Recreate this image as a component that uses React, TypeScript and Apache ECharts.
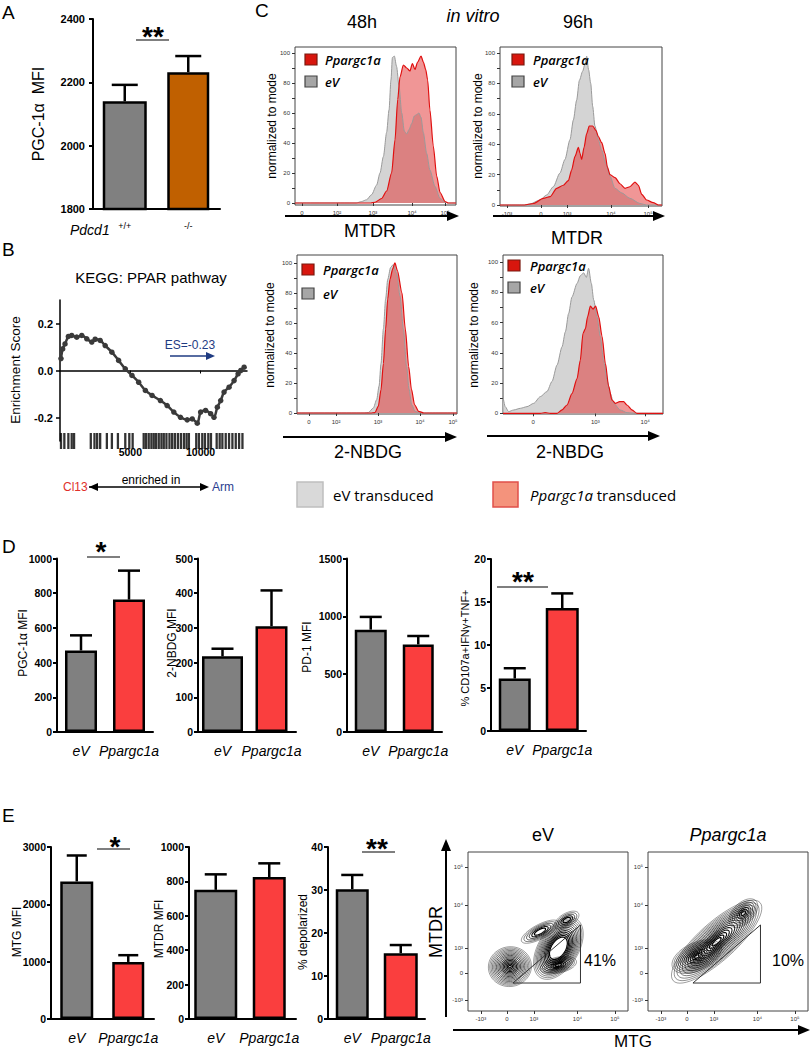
import React, { useEffect, useRef } from 'react';
import * as echarts from 'echarts';

const FONT = 'Liberation Sans, Arial, sans-serif';
const CAL = 'Open Sans, sans-serif';
const GRAY = '#808080';
const RED = '#fa3e3e';
const ORANGE = '#c06000';

// ---------- Panel A ----------
const pdcdGenotypes = ['+/+', '-/-'];
const pgcMfiA = [2140, 2232];
const pgcMfiAErr = [52, 51];

// ---------- Panel B (GSEA running enrichment score) ----------
const esRank = [71, 190, 357, 595, 833, 1190, 1548, 1905, 2262, 2500, 2857, 3214, 3690, 4167, 4643, 5119, 5595, 6071, 6548, 7143, 7619, 8095, 8571, 9048, 9405, 9762, 10000, 10357, 10714, 10952, 11190, 11429, 11667, 12024, 12381, 12667, 12857, 13095];
const esScore = [0.051, 0.092, 0.113, 0.145, 0.149, 0.142, 0.149, 0.135, 0.121, 0.133, 0.128, 0.106, 0.078, 0.043, 0.007, -0.021, -0.05, -0.085, -0.106, -0.128, -0.149, -0.177, -0.199, -0.21, -0.206, -0.224, -0.177, -0.17, -0.184, -0.199, -0.156, -0.128, -0.092, -0.071, -0.043, -0.014, 0, 0.014];
const geneHits = [71, 309, 595, 833, 1000, 2190, 2452, 2643, 2857, 3333, 3690, 4119, 4643, 4929, 5167, 5952, 6119, 6310, 6500, 6667, 6833, 7024, 7214, 7381, 7571, 7786, 7976, 8167, 8381, 8595, 8810, 9000, 9167, 9690, 9881, 10119, 10310, 10548, 10738, 11143, 11357, 11548, 11786, 12024, 12262, 12500, 12738, 12976];
const esTicks = [5000, 10000];
const esYTicks = [-0.2, 0, 0.2];

// ---------- Panel C (histograms, display channel 0-1000, % of mode) ----------
const histYTicks = [0, 20, 40, 60, 80, 100];
const histYMinor = [0, 10, 20, 30, 40, 50, 60, 70, 80, 90, 100];

const mtdr48Ticks = [43, 261, 484, 727, 932];
const mtdr48Labels = ['0', '10²', '10³', '10⁴', '10⁵'];
const mtdr48EV = [[0, 0], [380, 0], [414, 1], [445, 2.2], [476, 5.6], [507, 12], [528, 20], [549, 31], [569, 47], [584, 62], [596, 82], [605, 97], [617, 98], [631, 91], [646, 78], [663, 60], [679, 48], [694, 46], [708, 49], [725, 53], [741, 58], [756, 59], [770, 60], [783, 57], [797, 47], [818, 33], [838, 22], [870, 11], [901, 3], [932, 0.5], [952, 0], [1000, 0]];
const mtdr48PGC = [[0, 0], [470, 0], [497, 0.5], [538, 3], [569, 8], [600, 20], [621, 42], [638, 69], [652, 84], [673, 92], [694, 90], [714, 88], [729, 93], [745, 89], [762, 94], [783, 98], [797, 94], [812, 89], [824, 82], [838, 62], [859, 38], [880, 18], [901, 7], [932, 1], [952, 0], [1000, 0]];

const mtdr96Ticks = [43, 253, 414, 685, 914];
const mtdr96Labels = ['-10³', '0', '10³', '10⁴', '10⁵'];
const mtdr96EV = [[0, 0], [150, 0], [185, 0.7], [247, 3.3], [288, 6.6], [329, 12], [370, 21], [401, 30], [432, 43], [453, 56], [473, 69], [490, 82], [510, 88], [525, 93], [535, 98], [547, 89], [560, 80], [572, 65], [586, 52], [607, 43], [628, 36], [654, 27], [679, 19], [710, 11], [751, 8], [802, 4.4], [864, 1], [905, 0], [1000, 0]];
const mtdr96PGC = [[0, 0], [150, 0], [206, 1], [267, 4.4], [309, 5.5], [350, 11], [391, 13], [422, 16], [442, 23], [463, 32], [484, 38], [494, 34], [504, 30], [519, 38], [535, 47], [551, 52], [572, 52], [593, 49], [607, 45], [628, 41], [648, 34], [663, 25], [679, 20], [710, 18], [741, 14], [772, 11], [802, 12], [833, 15], [854, 13], [875, 7], [905, 3.3], [946, 1.5], [977, 0], [1000, 0]];

const nbdg48Ticks = [75, 244, 506, 769, 975];
const nbdg48Labels = ['0', '10²', '10³', '10⁴', '10⁵'];
const nbdg48EV = [[0, 0], [420, 0], [446, 0.3], [477, 3.3], [498, 8.9], [513, 18], [525, 33], [540, 56], [554, 76], [567, 89], [585, 97], [602, 99], [623, 93], [644, 78], [665, 56], [685, 31], [700, 16], [717, 5.5], [738, 1.1], [769, 0], [1000, 0]];
const nbdg48PGC = [[0, 0], [460, 0], [487, 0.3], [508, 4.4], [525, 15.5], [540, 33], [554, 56], [567, 76], [581, 89], [598, 96], [612, 100], [627, 95], [656, 80], [677, 56], [698, 31], [715, 16], [735, 5.5], [760, 1.1], [792, 0], [1000, 0]];

const nbdg96Ticks = [188, 577, 889];
const nbdg96Labels = ['0', '10³', '10⁴'];
const nbdg96EV = [[0, 11], [4, 11], [14, 4.4], [35, 1.1], [67, 2.2], [109, 3.3], [150, 4.4], [192, 6.6], [233, 11], [275, 14.4], [306, 21], [338, 32], [369, 44], [390, 54], [410, 66], [431, 77], [463, 86], [483, 91], [504, 93], [521, 90], [535, 96], [552, 86], [567, 75], [587, 64], [608, 51], [629, 35], [650, 22], [671, 13], [692, 6.6], [733, 2.2], [775, 0.4], [837, 0], [1000, 0]];
const nbdg96PGC = [[0, 0], [233, 0], [264, 0.4], [296, 0], [338, 0], [369, 2.2], [400, 5.5], [431, 13], [463, 23], [483, 35], [500, 53], [515, 56], [529, 64], [546, 71], [563, 69], [579, 71], [598, 64], [619, 51], [640, 33], [660, 18], [681, 8.8], [702, 6.6], [729, 7.7], [754, 7.7], [775, 5.5], [806, 2.2], [837, 0], [1000, 0]];

// ---------- Panel D ----------
const vectorGroups = ['eV', 'Ppargc1a'];
const pgcMfiD = [470, 763];
const pgcMfiDErr = [87, 167];
const nbdgMfiD = [218, 305];
const nbdgMfiDErr = [22, 103];
const pd1MfiD = [885, 757];
const pd1MfiDErr = [110, 73];
const polyD = [6.1, 14.3];
const polyDErr = [1.2, 1.7];

// ---------- Panel E ----------
const mtgMfiE = [2400, 995];
const mtgMfiEErr = [452, 118];
const mtdrMfiE = [751, 825];
const mtdrMfiEErr = [90, 80];
const depolE = [30.2, 15.3];
const depolEErr = [3.3, 1.9];

const flowXTicks = [80, 244, 412, 684, 918];
const flowYTicks = [69, 239, 396, 667, 906];
const flowLabels = ['-10³', '0', '10³', '10⁴', '10⁵'];
// contour populations: [x, y, rx, ry, angleDeg, levels, innerScale]
const contourEV = [
  [262, 279, 135, 125, 10, 16, 0.06],
  [565, 394, 215, 125, 58, 13, 0.36],
  [565, 289, 115, 50, 12, 8, 0.18],
  [450, 499, 130, 45, 28, 6, 0.3],
  [617, 572, 85, 42, 30, 5, 0.3],
];
const contourPGC = [
  [429, 436, 365, 118, 42, 16, 0.1],
  [304, 342, 165, 88, 25, 12, 0.1],
  [596, 615, 110, 65, 45, 8, 0.15],
];
const depolGate = [[281, 176], [703, 176], [703, 541], [281, 176]];
const gatePercents = ['41%', '10%'];

function txt(text: string, x: number, y: number, size: number, o: any = {}) {
  return {
    type: 'text', x, y, rotation: o.rot || 0, z: 100,
    style: {
      text, fill: o.color || '#000', fontSize: size, fontFamily: o.family || FONT,
      fontWeight: o.weight || 'normal', fontStyle: o.italic ? 'italic' : 'normal',
      textAlign: o.align || 'center', textVerticalAlign: o.valign || 'middle', rich: o.rich,
    },
  };
}
function ln(x1: number, y1: number, x2: number, y2: number, w = 1, c = '#000') {
  return { type: 'line', z: 100, shape: { x1, y1, x2, y2 }, style: { stroke: c, lineWidth: w } };
}
function arrowRight(x1: number, x2: number, y: number, w = 2, c = '#000', hl = 12, hw = 5) {
  return [ln(x1, y, x2 - hl + 1, y, w, c), { type: 'polygon', z: 100, shape: { points: [[x2, y], [x2 - hl, y - hw], [x2 - hl, y + hw]] }, style: { fill: c } }];
}
function arrowLeft(x1: number, y: number, c = '#000', hl = 12, hw = 5) {
  return [{ type: 'polygon', z: 100, shape: { points: [[x1, y], [x1 + hl, y - hw], [x1 + hl, y + hw]] }, style: { fill: c } }];
}
function arrowUp(x: number, y1: number, y2: number, w = 2, c = '#000', hl = 12, hw = 5) {
  return [ln(x, y1, x, y2 + hl - 1, w, c), { type: 'polygon', z: 100, shape: { points: [[x, y2], [x - hw, y2 + hl], [x + hw, y2 + hl]] }, style: { fill: c } }];
}
function rect(x: number, y: number, w: number, h: number, fill: string, stroke: string, lw = 1.5) {
  return { type: 'rect', z: 100, shape: { x, y, width: w, height: h }, style: { fill, stroke, lineWidth: lw } };
}

function buildOption() {
  const grid: any[] = [], xAxis: any[] = [], yAxis: any[] = [], series: any[] = [], g: any[] = [];
  const addGrid = (o: any) => { grid.push({ containLabel: false, outerBoundsMode: 'none', show: false, ...o }); return grid.length - 1; };

  // ----- bar panels -----
  const barPanels = [
    { box: [93, 19, 127, 190], cats: pdcdGenotypes, vals: pgcMfiA, errs: pgcMfiAErr, min: 1800, max: 2400, step: 200, colors: [GRAY, ORANGE], bw: [44, 42], cap: 13, catFont: 9, catItalic: false, catMargin: 12, yFont: 11, yMargin: 8 },
    { box: [57, 558.5, 96, 173.5], cats: vectorGroups, vals: pgcMfiD, errs: pgcMfiDErr, min: 0, max: 1000, step: 200, colors: [GRAY, RED], bw: [32, 32], cap: 11 },
    { box: [198, 558.5, 98, 173.5], cats: vectorGroups, vals: nbdgMfiD, errs: nbdgMfiDErr, min: 0, max: 500, step: 100, colors: [GRAY, RED], bw: [41, 32], cap: 11 },
    { box: [347, 558.5, 95, 173.5], cats: vectorGroups, vals: pd1MfiD, errs: pd1MfiDErr, min: 0, max: 1500, step: 500, colors: [GRAY, RED], bw: [32, 31], cap: 11 },
    { box: [491, 559, 95, 172], cats: vectorGroups, vals: polyD, errs: polyDErr, min: 0, max: 20, step: 5, colors: [GRAY, RED], bw: [32, 33], cap: 11 },
    { box: [51, 847, 103, 172], cats: vectorGroups, vals: mtgMfiE, errs: mtgMfiEErr, min: 0, max: 3000, step: 1000, colors: [GRAY, RED], bw: [33, 32], cap: 10 },
    { box: [189, 847, 107, 172], cats: vectorGroups, vals: mtdrMfiE, errs: mtdrMfiEErr, min: 0, max: 1000, step: 200, colors: [GRAY, RED], bw: [43, 33], cap: 11 },
    { box: [328, 847, 97, 172], cats: vectorGroups, vals: depolE, errs: depolEErr, min: 0, max: 40, step: 10, colors: [GRAY, RED], bw: [33, 34], cap: 11 },
  ];
  barPanels.forEach((p: any) => {
    const gi = addGrid({ left: p.box[0], top: p.box[1], width: p.box[2], height: p.box[3] });
    const xa = xAxis.length;
    xAxis.push({
      type: 'category', gridIndex: gi, data: p.cats,
      axisLine: { lineStyle: { color: '#000', width: 2 } },
      axisTick: { alignWithLabel: true, length: 5, lineStyle: { width: 2, color: '#000' } },
      axisLabel: { interval: 0, fontSize: p.catFont || 14, fontStyle: p.catItalic === false ? 'normal' : 'italic', fontFamily: FONT, color: '#000', margin: p.catMargin || 12 },
    });
    xAxis.push({ type: 'category', gridIndex: gi, data: p.cats, show: false });
    const ya = yAxis.length;
    yAxis.push({
      type: 'value', gridIndex: gi, min: p.min, max: p.max, interval: p.step,
      splitLine: { show: false },
      axisLine: { show: true, lineStyle: { color: '#000', width: 2 } },
      axisTick: { show: true, length: 4, lineStyle: { width: 2, color: '#000' } },
      axisLabel: { fontSize: p.yFont || 10.5, fontWeight: 'bold', color: '#000', fontFamily: FONT, margin: p.yMargin || 5, formatter: (v: number) => String(v) },
    });
    series.push({ type: 'bar', xAxisIndex: xa, yAxisIndex: ya, data: [p.vals[0], '-'], barWidth: p.bw[0], itemStyle: { color: p.colors[0], borderColor: '#000', borderWidth: 2.5 } });
    series.push({ type: 'bar', xAxisIndex: xa + 1, yAxisIndex: ya, data: ['-', p.vals[1]], barWidth: p.bw[1], itemStyle: { color: p.colors[1], borderColor: '#000', borderWidth: 2.5 } });
    const cap = p.cap;
    series.push({
      type: 'custom', xAxisIndex: xa, yAxisIndex: ya, z: 5, encode: { x: 0, y: 1 },
      data: p.vals.map((v: number, i: number) => [i, v, p.errs[i]]),
      renderItem: (params: any, api: any) => {
        const i = api.value(0), v = api.value(1), e = api.value(2);
        const b = api.coord([i, v]);
        const t = api.coord([i, v + e]);
        return {
          type: 'group', children: [
            { type: 'line', shape: { x1: b[0], y1: b[1], x2: t[0], y2: t[1] }, style: { stroke: '#000', lineWidth: 2.5 } },
            { type: 'line', shape: { x1: t[0] - cap, y1: t[1], x2: t[0] + cap, y2: t[1] }, style: { stroke: '#000', lineWidth: 2.5 } },
          ],
        };
      },
    });
  });

  // ----- Panel B -----
  {
    const gi = addGrid({ left: 60, top: 300, width: 187, height: 141 });
    const xa = xAxis.length;
    xAxis.push({
      type: 'value', gridIndex: gi, min: 0, max: 13300, splitLine: { show: false },
      axisLine: { onZero: true, lineStyle: { color: '#000', width: 1.5 } },
      axisTick: { customValues: esTicks, length: 3, lineStyle: { color: '#000' } },
      axisLabel: { customValues: esTicks, fontSize: 10.5, fontWeight: 'bold', color: '#000', fontFamily: FONT, margin: 5, formatter: (v: number) => String(v) },
    });
    const ya = yAxis.length;
    yAxis.push({
      type: 'value', gridIndex: gi, min: -0.3, max: 0.3, splitLine: { show: false },
      axisLine: { show: true, lineStyle: { color: '#000', width: 1.5 } },
      axisTick: { show: true, customValues: esYTicks, length: 4, lineStyle: { color: '#000', width: 1.5 } },
      axisLabel: { customValues: esYTicks, fontSize: 11, fontWeight: 'bold', color: '#000', fontFamily: FONT, margin: 7, formatter: (v: number) => v.toFixed(1) },
    });
    series.push({
      type: 'line', xAxisIndex: xa, yAxisIndex: ya, data: esRank.map((r, i) => [r, esScore[i]]),
      symbol: 'circle', symbolSize: 5.5, showSymbol: true, smooth: 0.3,
      lineStyle: { color: '#3a3a3a', width: 2.5 }, itemStyle: { color: '#3a3a3a' },
    });
    const gb = addGrid({ left: 60, top: 433, width: 187, height: 16 });
    const xb = xAxis.length;
    xAxis.push({ type: 'value', gridIndex: gb, min: 0, max: 13300, show: false });
    const yb = yAxis.length;
    yAxis.push({ type: 'value', gridIndex: gb, min: 0, max: 1, show: false });
    series.push({ type: 'scatter', xAxisIndex: xb, yAxisIndex: yb, symbol: 'rect', symbolSize: [2.3, 16], itemStyle: { color: '#000' }, data: geneHits.map((h) => [h, 0.5]) });
  }

  // ----- Panel C histograms -----
  const hists = [
    { box: [295, 47, 161, 158], yMin: -1.33, yMax: 104, ticks: mtdr48Ticks, labels: mtdr48Labels, ev: mtdr48EV, pgc: mtdr48PGC, leg: [305, 54, 76, 325] },
    { box: [500, 47, 162, 159], yMin: -0.66, yMax: 104, ticks: mtdr96Ticks, labels: mtdr96Labels, ev: mtdr96EV, pgc: mtdr96PGC, leg: [512, 54, 76, 533] },
    { box: [297, 255, 160, 159], yMin: -0.67, yMax: 105.3, ticks: nbdg48Ticks, labels: nbdg48Labels, ev: nbdg48EV, pgc: nbdg48PGC, leg: [302, 264, 288, 323] },
    { box: [503, 255, 160, 159], yMin: -0.47, yMax: 104.8, ticks: nbdg96Ticks, labels: nbdg96Labels, ev: nbdg96EV, pgc: nbdg96PGC, leg: [508, 260, 282, 530] },
  ];
  hists.forEach((h: any) => {
    const gi = addGrid({ left: h.box[0], top: h.box[1], width: h.box[2], height: h.box[3], show: true, borderColor: '#444', borderWidth: 1 });
    const xa = xAxis.length;
    xAxis.push({
      type: 'value', gridIndex: gi, min: 0, max: 1000, splitLine: { show: false },
      axisLine: { show: false },
      axisTick: { show: true, customValues: h.ticks, length: 3, lineStyle: { color: '#333', width: 1 } },
      axisLabel: { customValues: h.ticks, formatter: (v: number) => h.labels[h.ticks.indexOf(v)] ?? '', fontSize: 6, color: '#333', fontFamily: FONT, margin: 5 },
    });
    const ya = yAxis.length;
    yAxis.push({
      type: 'value', gridIndex: gi, min: h.yMin, max: h.yMax, splitLine: { show: false },
      axisLine: { show: false },
      axisTick: { show: true, customValues: histYMinor, length: 3, lineStyle: { color: '#333', width: 1 } },
      axisLabel: { customValues: histYTicks, fontSize: 6, color: '#333', fontFamily: FONT, margin: 5 },
    });
    series.push({
      type: 'line', xAxisIndex: xa, yAxisIndex: ya, data: h.ev, showSymbol: false, symbol: 'none', smooth: 0.25, smoothMonotone: 'x',
      lineStyle: { color: '#9a9a9a', width: 1 }, areaStyle: { color: '#d4d4d4', opacity: 1 },
    });
    series.push({
      type: 'line', xAxisIndex: xa, yAxisIndex: ya, data: h.pgc, showSymbol: false, symbol: 'none', smooth: 0.25, smoothMonotone: 'x',
      lineStyle: { color: '#e01010', width: 1.2 }, areaStyle: { color: 'rgba(225,45,45,0.5)', opacity: 1 },
    });
    const [sx, ry, gy, tx] = h.leg;
    g.push(rect(sx, ry, 12, 11, '#d8160e', '#7a1a10', 1.2));
    g.push(rect(sx, gy, 12, 11, '#a6a6a6', '#444', 1.2));
    g.push(txt('Ppargc1a', tx, ry + 6, 13, { align: 'left', italic: true, weight: 600, family: CAL }));
    g.push(txt('eV', tx, gy + 6, 13, { align: 'left', italic: true, weight: 600, family: CAL }));
  });

  // ----- Panel E contour plots -----
  const contours = [
    { box: [468, 852, 160, 159], pops: contourEV, pct: gatePercents[0], pctX: 600 },
    { box: [648, 852, 160, 159], pops: contourPGC, pct: gatePercents[1], pctX: 788 },
  ];
  contours.forEach((c: any) => {
    const gi = addGrid({ left: c.box[0], top: c.box[1], width: c.box[2], height: c.box[3], show: true, borderColor: '#444', borderWidth: 1 });
    const xa = xAxis.length;
    xAxis.push({
      type: 'value', gridIndex: gi, min: 0, max: 1000, splitLine: { show: false }, axisLine: { show: false },
      axisTick: { show: true, customValues: flowXTicks, length: 3, lineStyle: { color: '#333' } },
      axisLabel: { customValues: flowXTicks, formatter: (v: number) => flowLabels[flowXTicks.indexOf(v)] ?? '', fontSize: 6, color: '#333', fontFamily: FONT, margin: 5 },
    });
    const ya = yAxis.length;
    yAxis.push({
      type: 'value', gridIndex: gi, min: 0, max: 1000, splitLine: { show: false }, axisLine: { show: false },
      axisTick: { show: true, customValues: flowYTicks, length: 3, lineStyle: { color: '#333' } },
      axisLabel: { customValues: flowYTicks, formatter: (v: number) => flowLabels[flowYTicks.indexOf(v)] ?? '', fontSize: 6, color: '#333', fontFamily: FONT, margin: 5 },
    });
    series.push({
      type: 'custom', xAxisIndex: xa, yAxisIndex: ya, clip: true, data: c.pops,
      renderItem: (params: any, api: any) => {
        const ctr = api.coord([api.value(0), api.value(1)]);
        const s = api.size([api.value(2), api.value(3)]);
        const ang = (api.value(4) * Math.PI) / 180;
        const lv = api.value(5), inner = api.value(6);
        const children: any[] = [];
        for (let k = 0; k < lv; k++) {
          const q = k / Math.max(1, lv - 1);
          const f = 1 - q * (1 - inner);
          const pts: number[][] = [];
          for (let j = 0; j < 56; j++) {
            const t = (j / 56) * Math.PI * 2;
            const ex = Math.cos(t) * s[0] * f, ey = Math.sin(t) * s[1] * f;
            pts.push([ctr[0] + ex * Math.cos(ang) - ey * Math.sin(ang), ctr[1] - (ex * Math.sin(ang) + ey * Math.cos(ang))]);
          }
          children.push({ type: 'polygon', shape: { points: pts }, style: { fill: 'none', stroke: '#000', lineWidth: 0.7 + 0.5 * q, opacity: 0.55 + 0.45 * q } });
        }
        return { type: 'group', children };
      },
    });
    series.push({ type: 'line', xAxisIndex: xa, yAxisIndex: ya, data: depolGate, symbol: 'none', lineStyle: { color: '#333', width: 1 }, z: 6 });
    g.push(txt(c.pct, c.pctX, 960, 16));
  });

  // ----- text & annotations -----
  g.push(txt('A', 2, 12.5, 19, { align: 'left' }));
  g.push(txt('B', 2, 249, 19, { align: 'left' }));
  g.push(txt('C', 255, 10, 19, { align: 'left' }));
  g.push(txt('D', 2, 546.5, 19, { align: 'left' }));
  g.push(txt('E', 2, 815, 19, { align: 'left' }));

  // A
  g.push(txt('PGC-1α  MFI', 38, 114, 16, { rot: Math.PI / 2 }));
  g.push(txt('Pdcd1', 70, 230, 14, { align: 'left', italic: true }));
  g.push(txt('**', 153, 36, 28, { weight: 'bold' }));
  g.push(ln(136, 40, 169, 40, 1.2));

  // B
  g.push(txt('KEGG: PPAR pathway', 151, 277, 15));
  g.push(txt('Enrichment Score', 15, 370, 13.5, { rot: Math.PI / 2 }));
  g.push(txt('ES=-0.23', 190, 345, 12, { color: '#1f3b82' }));
  g.push(...arrowRight(170, 215, 356, 1.5, '#1f3b82', 9, 4));
  g.push(txt('enriched in', 151, 480, 12));
  g.push(txt('Cl13', 63, 487, 12, { align: 'left', color: '#e0302a' }));
  g.push(txt('Arm', 212, 487, 12, { align: 'left', color: '#2a3d8f' }));
  g.push(...arrowRight(89, 209, 487, 1.5, '#000', 9, 4));
  g.push(...arrowLeft(89, 487, '#000', 9, 4));

  // C
  g.push(txt('48h', 362, 22, 18));
  g.push(txt('in vitro', 473, 16, 18, { italic: true }));
  g.push(txt('96h', 578, 22, 18));
  g.push(txt('normalized to mode', 272, 126, 12, { rot: Math.PI / 2 }));
  g.push(txt('normalized to mode', 478, 126, 12, { rot: Math.PI / 2 }));
  g.push(txt('normalized to mode', 270, 335, 12, { rot: Math.PI / 2 }));
  g.push(txt('normalized to mode', 474, 335, 12, { rot: Math.PI / 2 }));
  g.push(...arrowRight(285, 459, 216, 2));
  g.push(...arrowRight(493, 665, 216, 2));
  g.push(...arrowRight(283, 457, 437, 2));
  g.push(...arrowRight(487, 660, 436, 2));
  g.push(txt('MTDR', 370, 231, 18));
  g.push(txt('MTDR', 577, 238, 18));
  g.push(txt('2-NBDG', 368, 452, 18));
  g.push(txt('2-NBDG', 570, 452, 18));
  g.push(rect(297, 482, 26, 25, '#d9d9d9', '#bfbfbf', 1.5));
  g.push(txt('eV transduced', 333, 495, 15, { align: 'left', family: CAL }));
  g.push(rect(493, 482, 25, 25, '#f4937c', '#e0504a', 1.5));
  g.push(txt('{i|Ppargc1a} transduced', 530, 495, 15, { align: 'left', family: CAL, rich: { i: { fontStyle: 'italic', fontSize: 15, fontFamily: CAL, fill: '#000' } } }));

  // D
  g.push(txt('PGC-1α MFI', 23, 643, 12, { rot: Math.PI / 2 }));
  g.push(txt('2-NBDG MFI', 172, 643, 12, { rot: Math.PI / 2 }));
  g.push(txt('PD-1 MFI', 307, 647, 12, { rot: Math.PI / 2 }));
  g.push(txt('% CD107a+IFNγ+TNF+', 465, 648, 11, { rot: Math.PI / 2 }));
  g.push(txt('*', 101, 551, 28, { weight: 'bold' }));
  g.push(ln(87, 557, 120, 557, 1.2));
  g.push(txt('**', 523, 581, 28, { weight: 'bold' }));
  g.push(ln(497, 587, 548, 587, 1.2));

  // E
  g.push(txt('MTG MFI', 17, 932, 12, { rot: Math.PI / 2 }));
  g.push(txt('MTDR MFI', 159, 929, 12, { rot: Math.PI / 2 }));
  g.push(txt('% depolarized', 303, 932, 12, { rot: Math.PI / 2 }));
  g.push(txt('*', 115, 846, 28, { weight: 'bold' }));
  g.push(ln(97, 849, 130, 849, 1.2));
  g.push(txt('**', 377, 848, 28, { weight: 'bold' }));
  g.push(ln(362, 852, 395, 852, 1.2));
  g.push(txt('eV', 543, 835, 18));
  g.push(txt('Ppargc1a', 728, 835, 18, { italic: true }));
  g.push(txt('MTDR', 436, 932, 18, { rot: Math.PI / 2 }));
  g.push(...arrowUp(446, 1017, 839, 2));
  g.push(...arrowRight(453, 810, 1030, 2));
  g.push(txt('MTG', 633, 1041, 17));

  return { animation: false, backgroundColor: '#fff', grid, xAxis, yAxis, series, graphic: { elements: g } };
}

export default function App() {
  const ref = useRef<HTMLDivElement>(null);
  useEffect(() => {
    const chart = echarts.init(ref.current as HTMLDivElement, null, { renderer: 'svg' });
    chart.setOption(buildOption() as any);
    return () => chart.dispose();
  }, []);
  return <div ref={ref} style={{ position: 'absolute', left: 0, top: 0, width: 812, height: 1050, background: '#fff' }} />;
}
